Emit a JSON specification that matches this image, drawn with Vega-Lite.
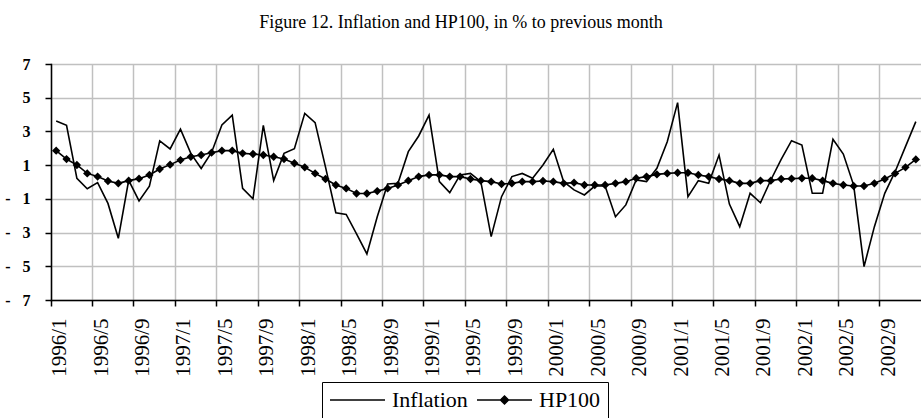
{
  "$schema": "https://vega.github.io/schema/vega-lite/v6.json",
  "autosize": {"type": "none"},
  "width": 870,
  "height": 236,
  "padding": {"left": 51, "top": 64, "right": 0, "bottom": 118},
  "background": "white",
  "title": {
    "text": "Figure 12. Inflation and HP100, in % to previous month",
    "font": "Liberation Serif",
    "fontSize": 18,
    "fontWeight": "normal",
    "color": "black",
    "anchor": "middle",
    "frame": "group",
    "dx": -25,
    "offset": 24
  },
  "data": {
    "values": [
      {"m": "1996/1", "Inflation": 3.62, "HP100": 1.86},
      {"m": "1996/2", "Inflation": 3.36, "HP100": 1.36},
      {"m": "1996/3", "Inflation": 0.22, "HP100": 1.01},
      {"m": "1996/4", "Inflation": -0.4, "HP100": 0.51},
      {"m": "1996/5", "Inflation": -0.04, "HP100": 0.32},
      {"m": "1996/6", "Inflation": -1.27, "HP100": 0.06},
      {"m": "1996/7", "Inflation": -3.34, "HP100": -0.08},
      {"m": "1996/8", "Inflation": 0.1, "HP100": 0.08},
      {"m": "1996/9", "Inflation": -1.12, "HP100": 0.2},
      {"m": "1996/10", "Inflation": -0.25, "HP100": 0.42},
      {"m": "1996/11", "Inflation": 2.44, "HP100": 0.77},
      {"m": "1996/12", "Inflation": 1.96, "HP100": 1.03},
      {"m": "1997/1", "Inflation": 3.14, "HP100": 1.3},
      {"m": "1997/2", "Inflation": 1.7, "HP100": 1.5},
      {"m": "1997/3", "Inflation": 0.8, "HP100": 1.6},
      {"m": "1997/4", "Inflation": 1.75, "HP100": 1.74},
      {"m": "1997/5", "Inflation": 3.38, "HP100": 1.86},
      {"m": "1997/6", "Inflation": 3.97, "HP100": 1.86},
      {"m": "1997/7", "Inflation": -0.38, "HP100": 1.7},
      {"m": "1997/8", "Inflation": -1.0, "HP100": 1.66},
      {"m": "1997/9", "Inflation": 3.36, "HP100": 1.6},
      {"m": "1997/10", "Inflation": 0.08, "HP100": 1.5},
      {"m": "1997/11", "Inflation": 1.7, "HP100": 1.36},
      {"m": "1997/12", "Inflation": 1.97, "HP100": 1.11},
      {"m": "1998/1", "Inflation": 4.07, "HP100": 0.87},
      {"m": "1998/2", "Inflation": 3.52, "HP100": 0.51},
      {"m": "1998/3", "Inflation": 0.9, "HP100": 0.18},
      {"m": "1998/4", "Inflation": -1.82, "HP100": -0.18},
      {"m": "1998/5", "Inflation": -1.92, "HP100": -0.38},
      {"m": "1998/6", "Inflation": -3.08, "HP100": -0.68},
      {"m": "1998/7", "Inflation": -4.27, "HP100": -0.68},
      {"m": "1998/8", "Inflation": -2.06, "HP100": -0.54},
      {"m": "1998/9", "Inflation": -0.12, "HP100": -0.38},
      {"m": "1998/10", "Inflation": -0.08, "HP100": -0.18},
      {"m": "1998/11", "Inflation": 1.8, "HP100": 0.08},
      {"m": "1998/12", "Inflation": 2.73, "HP100": 0.32},
      {"m": "1999/1", "Inflation": 3.97, "HP100": 0.42},
      {"m": "1999/2", "Inflation": 0.02, "HP100": 0.42},
      {"m": "1999/3", "Inflation": -0.63, "HP100": 0.32},
      {"m": "1999/4", "Inflation": 0.42, "HP100": 0.32},
      {"m": "1999/5", "Inflation": 0.51, "HP100": 0.18},
      {"m": "1999/6", "Inflation": 0.02, "HP100": 0.08},
      {"m": "1999/7", "Inflation": -3.24, "HP100": 0.02},
      {"m": "1999/8", "Inflation": -0.87, "HP100": -0.12},
      {"m": "1999/9", "Inflation": 0.32, "HP100": -0.08},
      {"m": "1999/10", "Inflation": 0.51, "HP100": 0.02},
      {"m": "1999/11", "Inflation": 0.22, "HP100": 0.02},
      {"m": "1999/12", "Inflation": 1.01, "HP100": 0.06},
      {"m": "2000/1", "Inflation": 1.94, "HP100": 0.02},
      {"m": "2000/2", "Inflation": 0.02, "HP100": -0.08},
      {"m": "2000/3", "Inflation": -0.47, "HP100": -0.04},
      {"m": "2000/4", "Inflation": -0.77, "HP100": -0.18},
      {"m": "2000/5", "Inflation": -0.24, "HP100": -0.18},
      {"m": "2000/6", "Inflation": -0.24, "HP100": -0.18},
      {"m": "2000/7", "Inflation": -2.06, "HP100": -0.08},
      {"m": "2000/8", "Inflation": -1.36, "HP100": 0.02},
      {"m": "2000/9", "Inflation": 0.12, "HP100": 0.22},
      {"m": "2000/10", "Inflation": 0.02, "HP100": 0.32},
      {"m": "2000/11", "Inflation": 0.81, "HP100": 0.45},
      {"m": "2000/12", "Inflation": 2.39, "HP100": 0.51},
      {"m": "2001/1", "Inflation": 4.71, "HP100": 0.55},
      {"m": "2001/2", "Inflation": -0.87, "HP100": 0.55},
      {"m": "2001/3", "Inflation": 0.08, "HP100": 0.42},
      {"m": "2001/4", "Inflation": -0.08, "HP100": 0.32},
      {"m": "2001/5", "Inflation": 1.6, "HP100": 0.18},
      {"m": "2001/6", "Inflation": -1.31, "HP100": 0.08},
      {"m": "2001/7", "Inflation": -2.65, "HP100": -0.08},
      {"m": "2001/8", "Inflation": -0.67, "HP100": -0.08},
      {"m": "2001/9", "Inflation": -1.23, "HP100": 0.08},
      {"m": "2001/10", "Inflation": 0.12, "HP100": 0.08},
      {"m": "2001/11", "Inflation": 1.34, "HP100": 0.18},
      {"m": "2001/12", "Inflation": 2.45, "HP100": 0.2},
      {"m": "2002/1", "Inflation": 2.19, "HP100": 0.22},
      {"m": "2002/2", "Inflation": -0.67, "HP100": 0.22},
      {"m": "2002/3", "Inflation": -0.67, "HP100": 0.08},
      {"m": "2002/4", "Inflation": 2.53, "HP100": -0.08},
      {"m": "2002/5", "Inflation": 1.66, "HP100": -0.18},
      {"m": "2002/6", "Inflation": -0.2, "HP100": -0.24},
      {"m": "2002/7", "Inflation": -5.02, "HP100": -0.24},
      {"m": "2002/8", "Inflation": -2.65, "HP100": -0.08},
      {"m": "2002/9", "Inflation": -0.67, "HP100": 0.18},
      {"m": "2002/10", "Inflation": 0.61, "HP100": 0.51},
      {"m": "2002/11", "Inflation": 2.1, "HP100": 0.87},
      {"m": "2002/12", "Inflation": 3.58, "HP100": 1.34}
    ]
  },
  "transform": [
    {"fold": ["Inflation", "HP100"], "as": ["series", "value"]}
  ],
  "encoding": {
    "x": {
      "field": "m",
      "type": "ordinal",
      "bandPosition": 0.5,
      "scale": {
        "type": "band",
        "paddingInner": 0,
        "paddingOuter": 0,
        "domain": ["1996/1","1996/2","1996/3","1996/4","1996/5","1996/6","1996/7","1996/8","1996/9","1996/10","1996/11","1996/12",
                   "1997/1","1997/2","1997/3","1997/4","1997/5","1997/6","1997/7","1997/8","1997/9","1997/10","1997/11","1997/12",
                   "1998/1","1998/2","1998/3","1998/4","1998/5","1998/6","1998/7","1998/8","1998/9","1998/10","1998/11","1998/12",
                   "1999/1","1999/2","1999/3","1999/4","1999/5","1999/6","1999/7","1999/8","1999/9","1999/10","1999/11","1999/12",
                   "2000/1","2000/2","2000/3","2000/4","2000/5","2000/6","2000/7","2000/8","2000/9","2000/10","2000/11","2000/12",
                   "2001/1","2001/2","2001/3","2001/4","2001/5","2001/6","2001/7","2001/8","2001/9","2001/10","2001/11","2001/12",
                   "2002/1","2002/2","2002/3","2002/4","2002/5","2002/6","2002/7","2002/8","2002/9","2002/10","2002/11","2002/12"]
      },
      "axis": {
        "title": null,
        "values": ["1996/1","1996/5","1996/9","1997/1","1997/5","1997/9","1998/1","1998/5","1998/9","1999/1","1999/5","1999/9",
                   "2000/1","2000/5","2000/9","2001/1","2001/5","2001/9","2002/1","2002/5","2002/9"],
        "bandPosition": 0,
        "tickExtra": false,
        "labelAngle": -90,
        "labelAlign": "right",
        "labelBaseline": "middle",
        "labelOffset": 4,
        "labelFont": "Liberation Serif",
        "labelFontSize": 21,
        "labelColor": "black",
        "labelPadding": 12,
        "labelOverlap": false,
        "labelFlush": false,
        "tickSize": 6,
        "tickColor": "black",
        "tickWidth": 1.5,
        "domainColor": "black",
        "domainWidth": 1.5,
        "grid": true,
        "gridColor": "#c0c0c0",
        "gridWidth": 1.5
      }
    },
    "y": {
      "field": "value",
      "type": "quantitative",
      "scale": {"domain": [-7, 7], "nice": false, "zero": false},
      "axis": {
        "title": null,
        "values": [-7, -5, -3, -1, 1, 3, 5, 7],
        "labelExpr": "datum.value < 0 ? '-\u00a0\u00a0\u00a0' + abs(datum.value) : '' + datum.value",
        "labelFont": "Liberation Serif",
        "labelFontSize": 16,
        "labelFontWeight": "bold",
        "labelColor": "black",
        "labelPadding": 15,
        "tickSize": 6,
        "tickColor": "black",
        "tickWidth": 1.5,
        "domainColor": "black",
        "domainWidth": 1.5,
        "grid": true,
        "gridColor": "#c0c0c0",
        "gridWidth": 1.5
      }
    }
  },
  "layer": [
    {
      "mark": {"type": "line", "color": "black", "strokeWidth": 1.6},
      "encoding": {"detail": {"field": "series", "type": "nominal"}}
    },
    {
      "transform": [{"filter": "datum.series === 'HP100'"}],
      "mark": {"type": "point", "shape": "diamond", "filled": true, "color": "black", "size": 70, "opacity": 1}
    },
    {
      "transform": [{"filter": "datum.value > 999"}],
      "mark": {"type": "point", "filled": true, "color": "black", "stroke": "black", "strokeWidth": 1.5, "opacity": 1},
      "encoding": {
        "shape": {
          "field": "series",
          "type": "nominal",
          "scale": {
            "domain": ["Inflation", "HP100"],
            "range": ["M-1,0H4.5", "M-1,0H4.5M1.75,-0.4L2.15,0L1.75,0.4L1.35,0Z"]
          },
          "legend": {
            "title": null,
            "orient": "none",
            "legendX": 271,
            "legendY": 318,
            "direction": "horizontal",
            "strokeColor": "black",
            "fillColor": "white",
            "padding": 7,
            "columnPadding": 6,
            "labelOffset": 41,
            "symbolSize": 400,
            "labelFont": "Liberation Serif",
            "labelFontSize": 22,
            "labelColor": "black",
            "labelLimit": 300,
            "encode": {
              "labels": {
                "update": {
                  "font": {"value": "Liberation Serif"}
                }
              },
              "symbols": {
                "update": {
                  "fill": {"value": "black"},
                  "stroke": {"value": "black"},
                  "strokeWidth": {"value": 1.5},
                  "opacity": {"value": 1}
                }
              }
            }
          }
        }
      }
    }
  ],
  "config": {
    "font": "Liberation Serif",
    "view": {"stroke": null},
    "legend": {"labelFont": "Liberation Serif"},
    "axis": {"domainCap": "square"}
  }
}
